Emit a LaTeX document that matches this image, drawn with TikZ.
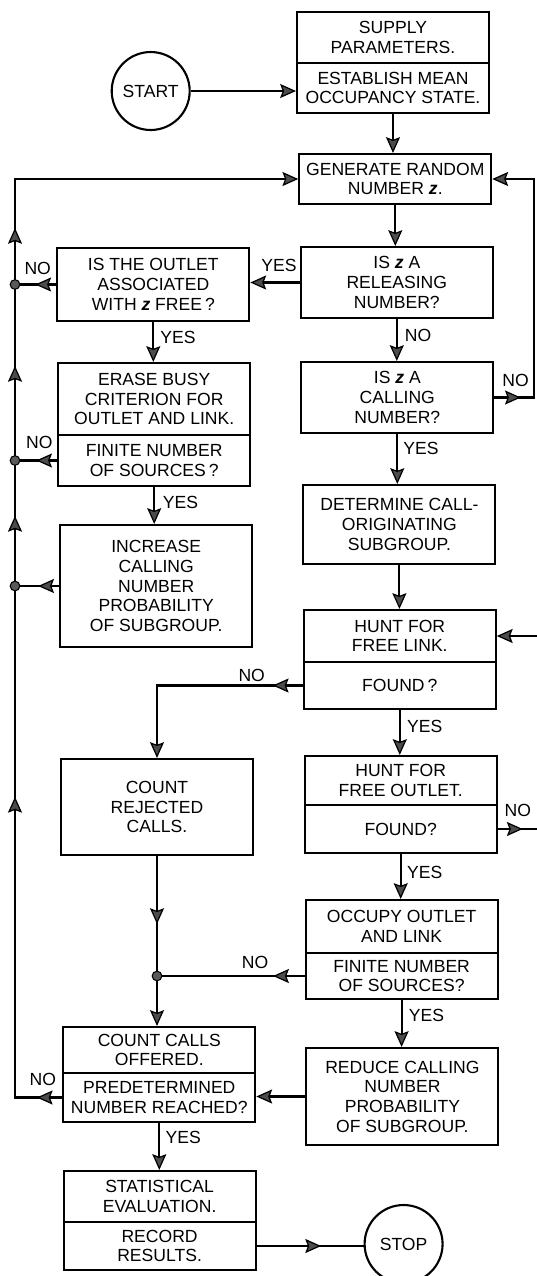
\documentclass[tikz,border=0pt]{standalone}
\usepackage{fontspec}
\setmainfont{Liberation Sans}
\usetikzlibrary{arrows.meta,decorations.markings}
\newcommand{\zz}{\textit{\textbf{z}}}

\begin{document}
\begin{tikzpicture}[x=0.02cm, y=-0.02cm, line width=1.2pt,
  font=\fontsize{10}{11.2}\selectfont,
  >={Stealth[length=9pt, width=8pt, inset=1.5pt, fill=black!70, line width=0.7pt]},
  box/.style={draw, rectangle, align=center, inner sep=0pt, minimum width=3.84cm},
  term/.style={draw, circle, minimum size=1.56cm, inner sep=0pt},
  junc/.style={draw, circle, fill=black!65, line width=0.6pt, inner sep=0pt, minimum size=5.5pt},
  lbl/.style={inner sep=0pt},
  midtip/.style={postaction=decorate, decoration={markings,
    mark=at position #1 with {\arrow{>}}}},
  looptips/.style={postaction=decorate, decoration={markings,
    mark=at position 0.51cm with {\arrow{>}},
    mark=at position 6.96cm with {\arrow{>}},
    mark=at position 12.58cm with {\arrow{>}},
    mark=at position 15.58cm with {\arrow{>}},
    mark=at position 18.34cm with {\arrow{>}}}}]
\useasboundingbox (0,0) rectangle (537,1276);

% right column
\node[box, minimum height=1.02cm] (supply) at (393,37.5) {SUPPLY\\PARAMETERS.};
\node[box, minimum height=1.0cm] (establish) at (393,88) {ESTABLISH MEAN\\OCCUPANCY STATE.};
\node[term] (start) at (150.7,91) {START};
\node[box, minimum height=1.0cm] (generate) at (395.3,179) {GENERATE RANDOM\\NUMBER \zz.};
\node[box, minimum height=1.42cm] (releasing) at (396.8,282.5) {IS \zz{} A\\RELEASING\\NUMBER?};
\node[box, minimum height=1.42cm] (calling) at (397.3,397.5) {IS \zz{} A\\CALLING\\NUMBER?};
\node[box, minimum height=1.58cm] (determine) at (399.4,524.5) {DETERMINE CALL-\\ORIGINATING\\SUBGROUP.};
\node[box, minimum height=1.04cm] (huntlink) at (399.8,636) {HUNT FOR\\FREE LINK.};
\node[box, minimum height=0.94cm] (found1) at (399.8,685.5) {FOUND\,?};
\node[box, minimum height=0.98cm] (huntoutlet) at (400.7,780.5) {HUNT FOR\\FREE OUTLET.};
\node[box, minimum height=0.96cm] (found2) at (400.7,829) {FOUND?};
\node[box, minimum height=1.06cm] (occupy) at (401.6,926.5) {OCCUPY OUTLET\\AND LINK};
\node[box, minimum height=0.92cm] (finite2) at (401.6,976) {FINITE NUMBER\\OF SOURCES?};
\node[box, minimum height=1.94cm] (reduce) at (402.4,1096.5) {REDUCE CALLING\\NUMBER\\PROBABILITY\\OF SUBGROUP.};
\node[term] (stop) at (403.6,1244) {STOP};

% left column
\node[box, minimum height=1.46cm] (outlet) at (153.3,284.5) {IS THE OUTLET\\ASSOCIATED\\WITH \zz{} FREE\,?};
\node[box, minimum height=1.44cm] (erase) at (154.2,399) {ERASE BUSY\\CRITERION FOR\\OUTLET AND LINK.};
\node[box, minimum height=1.02cm] (finite1) at (154.2,460.5) {FINITE NUMBER\\OF SOURCES\,?};
\node[box, minimum height=2.44cm] (increase) at (156.2,586) {INCREASE\\CALLING\\NUMBER\\PROBABILITY\\OF SUBGROUP.};
\node[box, minimum height=1.92cm] (rejected) at (157,807) {COUNT\\REJECTED\\CALLS.};
\node[box, minimum height=0.92cm] (offered) at (159.3,1050) {COUNT CALLS\\OFFERED.};
\node[box, minimum height=0.98cm] (reached) at (159.3,1097.5) {PREDETERMINED\\NUMBER REACHED?};
\node[box, minimum height=1.02cm] (statistical) at (159.6,1196.5) {STATISTICAL\\EVALUATION.};
\node[box, minimum height=0.96cm] (record) at (159.6,1246) {RECORD\\RESULTS.};

\coordinate (loopx) at (15,0);
\coordinate (rightx) at (534,0);
\coordinate (edge1) at (537,636);
\coordinate (edge2) at (537,829);

% main flow
\draw[->] (start) -- (start -| establish.west);
\draw[->] (establish) -- (establish |- generate.north);
\draw[->] (generate) -- (generate |- releasing.north);
\draw[->] (releasing) -- (releasing -| outlet.east);
\draw[->] (releasing) -- (releasing |- calling.north);
\draw[->, midtip=0.53cm] (calling.east) -- (calling.east -| rightx) |- (generate.east);
\draw[->] (calling) -- (calling |- determine.north);
\draw[->] (determine) -- (determine |- huntlink.north);
\draw[->] (edge1) -- (huntlink.east);
\draw[->, midtip=0.6cm] (found1.west) -| (rejected.north);
\draw[->] (found1) -- (found1 |- huntoutlet.north);
\draw[midtip=0.5cm] (found2.east) -- (edge2);
\draw[->] (found2) -- (found2 |- occupy.north);
\draw[->] (finite2) -- (finite2 |- reduce.north);
\draw[->] (reduce) -- (reduce -| reached.east);
\draw[->] (outlet) -- (outlet |- erase.north);
\draw[->] (finite1) -- (finite1 |- increase.north);
\draw[->, midtip=1.36cm] (rejected) -- (rejected |- offered.north);
\draw[->] (reached) -- (reached |- statistical.north);
\draw[midtip=1.29cm] (record.east) -- (record.east -| stop.west);

% return loop
\draw[->, looptips] (reached.west) -- (reached.west -| loopx) |- (generate.west);
\node[junc] (j1) at (loopx |- outlet.west) {};
\node[junc] (j2) at (loopx |- finite1.west) {};
\node[junc] (j3) at (loopx |- increase.west) {};
\node[junc] (j4) at (rejected |- finite2.west) {};
\draw[midtip=0.42cm] (outlet.west) -- (j1);
\draw[midtip=0.42cm] (finite1.west) -- (j2);
\draw[midtip=0.42cm] (increase.west) -- (j3);
\draw[midtip=0.63cm] (finite2.west) -- (j4);

% answers
\node[lbl] (yes1) at (279,265) {YES};
\node[lbl] (no1) at (37.7,268) {NO};
\node[lbl] (yes2) at (178,337) {YES};
\node[lbl] (no2) at (39.4,442) {NO};
\node[lbl] (yes3) at (180.5,502) {YES};
\node[lbl] (no3) at (418,335) {NO};
\node[lbl] (no4) at (515.5,380) {NO};
\node[lbl] (yes4) at (421,448) {YES};
\node[lbl] (no5) at (251.7,675) {NO};
\node[lbl] (yes5) at (424.7,726) {YES};
\node[lbl] (no6) at (517.9,810) {NO};
\node[lbl] (yes6) at (424.7,872) {YES};
\node[lbl] (no7) at (255,962) {NO};
\node[lbl] (yes7) at (426.4,1015) {YES};
\node[lbl] (no8) at (42.8,1079) {NO};
\node[lbl] (yes8) at (183.2,1137) {YES};
\end{tikzpicture}
\end{document}
